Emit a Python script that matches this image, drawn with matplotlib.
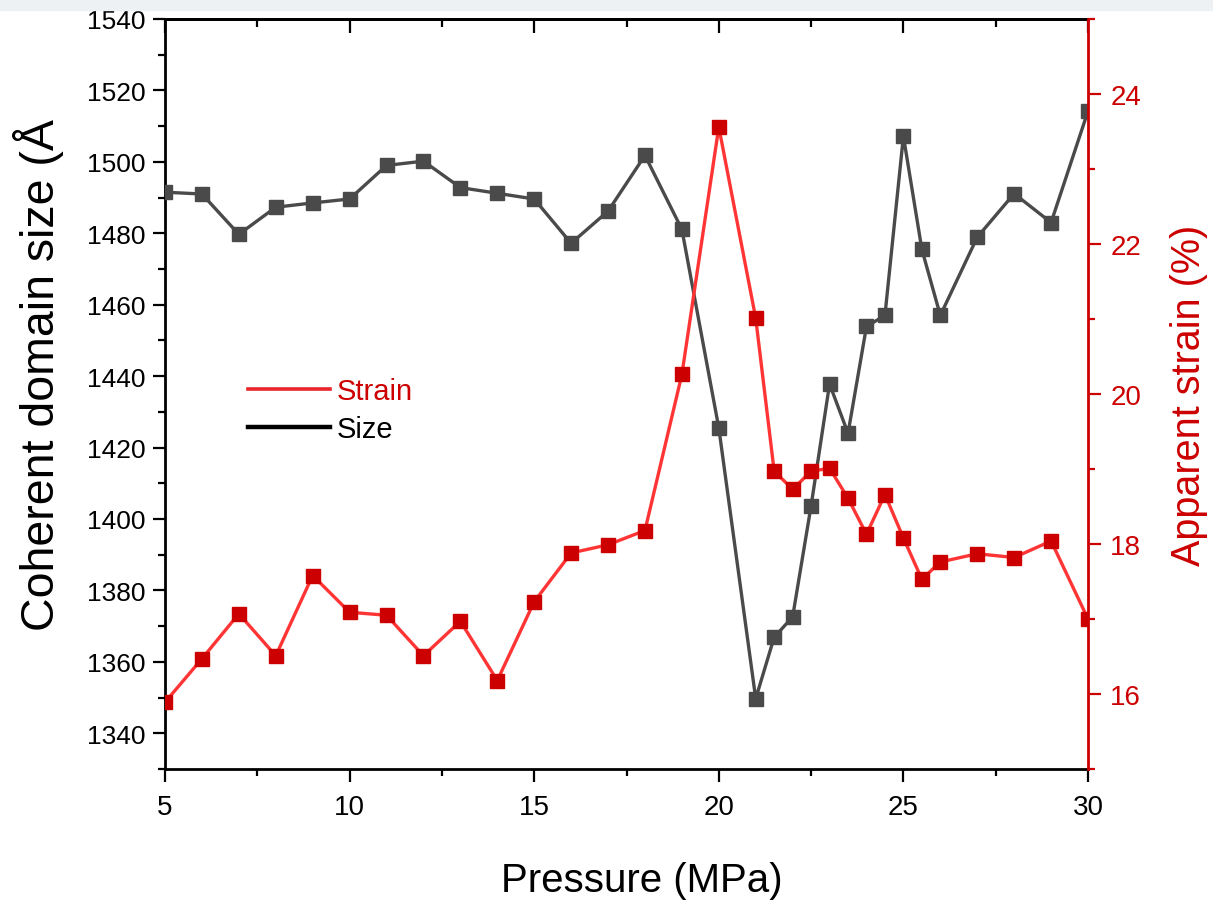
import matplotlib
matplotlib.use("Agg")
import matplotlib.pyplot as plt
from matplotlib.lines import Line2D
from matplotlib.patches import Rectangle
from matplotlib.ticker import MultipleLocator

plt.rcParams["font.family"] = ["Liberation Sans", "DejaVu Sans"]

# ── data ────────────────────────────────────────────────────────────────────
pressure = [5, 6, 7, 8, 9, 10, 11, 12, 13, 14, 15, 16, 17, 18, 19, 20, 21,
            21.5, 22, 22.5, 23, 23.5, 24, 24.5, 25, 25.5, 26, 27, 28, 29, 30]

size = [1491.5, 1491.0, 1479.7, 1487.3, 1488.5, 1489.6, 1499.0, 1500.2,
        1492.8, 1491.2, 1489.6, 1477.2, 1486.2, 1501.8, 1481.1, 1425.5,
        1349.7, 1366.9, 1372.6, 1403.7, 1437.8, 1424.0, 1453.9, 1457.0,
        1507.2, 1475.5, 1457.0, 1478.9, 1491.1, 1483.0, 1514.2]

strain = [15.89, 16.47, 17.07, 16.51, 17.58, 17.09, 17.05, 16.51, 16.97,
          16.18, 17.23, 17.88, 17.99, 18.18, 20.26, 23.56, 21.01, 18.97,
          18.73, 18.97, 19.01, 18.61, 18.13, 18.66, 18.08, 17.53, 17.76,
          17.87, 17.82, 18.04, 17.00]

RED = "#cc0000"
RED_LINE = "#ff3535"
GREY = "#4a4a4a"

# ── figure ──────────────────────────────────────────────────────────────────
fig = plt.figure(figsize=(12.13, 9.04), dpi=100)
ax = fig.add_axes([165 / 1213, 1 - 770 / 904, 923 / 1213, 750 / 904])
ax2 = ax.twinx()

ax.plot(pressure, size, color=GREY, lw=2.4, marker="s", ms=9.8,
        mfc=GREY, mec=GREY, zorder=3)
ax2.plot(pressure, strain, color=RED_LINE, lw=2.4, marker="s", ms=9.8,
         mfc=RED, mec=RED, zorder=3)

ax.set_xlim(5, 30)
ax.set_ylim(1330, 1540)
ax2.set_ylim(15, 25)

ax.xaxis.set_major_locator(MultipleLocator(5))
ax.xaxis.set_minor_locator(MultipleLocator(2.5))
ax.yaxis.set_major_locator(MultipleLocator(20))
ax.yaxis.set_minor_locator(MultipleLocator(10))
ax2.yaxis.set_major_locator(MultipleLocator(2))
ax2.yaxis.set_minor_locator(MultipleLocator(1))
ax2.set_yticks([16, 18, 20, 22, 24])

for s in ["left", "bottom", "top"]:
    ax.spines[s].set_linewidth(2.0)
ax.spines["right"].set_visible(False)
for s in ["left", "bottom", "top"]:
    ax2.spines[s].set_visible(False)
ax2.spines["right"].set_color(RED)
ax2.spines["right"].set_linewidth(2.0)

ax.tick_params(axis="both", which="major", direction="out", length=9,
               width=1.6, pad=5)
ax.tick_params(axis="both", which="minor", direction="out", length=5,
               width=1.6)
ax.tick_params(axis="y", labelsize=19)
ax.tick_params(axis="x", labelsize=20, pad=9)
ax2.tick_params(axis="y", which="major", direction="out", length=9,
                width=1.6, labelsize=20, colors=RED, pad=7)
ax2.tick_params(axis="y", which="minor", direction="out", length=5,
                width=1.6, colors=RED)

# top ticks (inward, no labels)
top = ax.secondary_xaxis("top")
top.xaxis.set_major_locator(MultipleLocator(5))
top.xaxis.set_minor_locator(MultipleLocator(2.5))
top.tick_params(which="major", direction="in", length=10, width=1.6,
                labeltop=False)
top.tick_params(which="minor", direction="in", length=6, width=1.6)
top.spines["top"].set_linewidth(2.0)

ax.set_xlabel("Pressure (MPa)", fontsize=29)
ax.xaxis.set_label_coords(0.517, -0.123)
ax.set_ylabel("Coherent domain size (Å", fontsize=33.5, ha="left")
ax.yaxis.set_label_coords(-0.1094, 0.185)
ax2.set_ylabel("Apparent strain (%)", fontsize=28.5, color=RED)
ax2.yaxis.set_label_coords(1.089, 0.5)

handles = [Line2D([], [], color="#e8262c", lw=2.6),
           Line2D([], [], color="black", lw=3.2)]
fig.legend(handles, ["Strain", "Size"], loc="center left",
           bbox_to_anchor=(248 / 1213, 1 - 411 / 904), frameon=False,
           fontsize=21, handlelength=2.8, handletextpad=0.25,
           labelspacing=0.36, borderpad=0, borderaxespad=0,
           labelcolor=[RED, "black"])

# light screenshot band along the top edge
fig.patches.append(Rectangle((0, 1 - 11 / 904), 1, 11 / 904,
                             transform=fig.transFigure, color="#edf1f4",
                             zorder=10))

fig.savefig("out.png", dpi=100)
